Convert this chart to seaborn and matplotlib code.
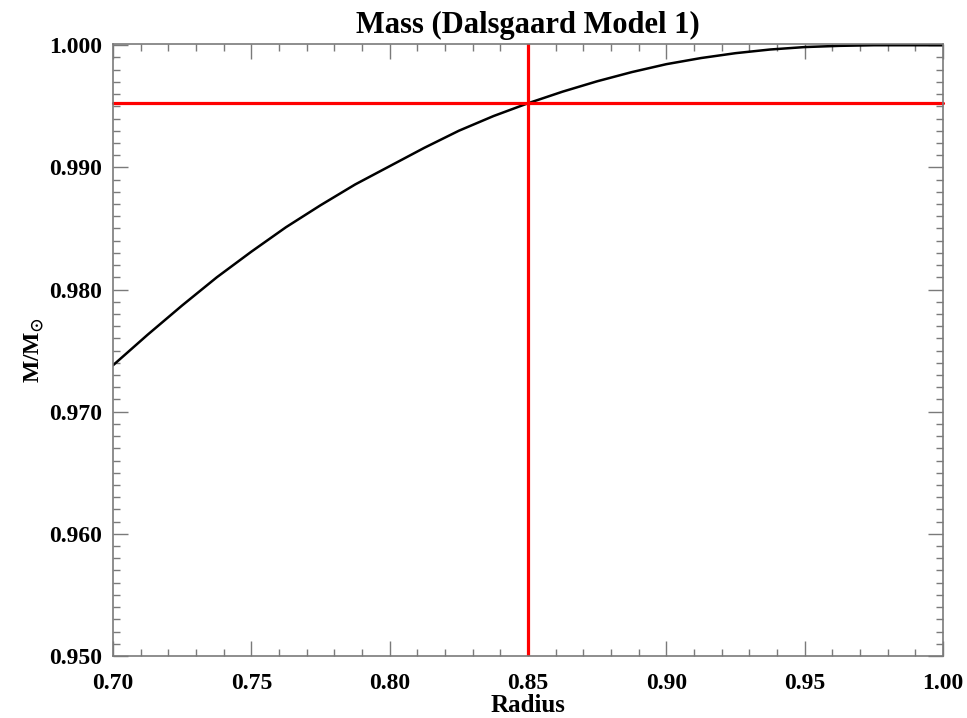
import numpy as np
import pandas as pd
import matplotlib
matplotlib.use("Agg")
import matplotlib.pyplot as plt
import seaborn as sns
from matplotlib.ticker import MultipleLocator, FormatStrFormatter

# valores
radius = [0.7000, 0.7125, 0.7250, 0.7375, 0.7500, 0.7625, 0.7750, 0.7875,
          0.8000, 0.8125, 0.8250, 0.8375, 0.8500, 0.8625, 0.8750, 0.8875,
          0.9000, 0.9125, 0.9250, 0.9375, 0.9500, 0.9625, 0.9750, 0.9875, 1.0000]
mass = [0.97380, 0.97630, 0.97870, 0.98100, 0.98310, 0.98510, 0.98690, 0.98860,
        0.99010, 0.99160, 0.99300, 0.99420, 0.99525, 0.99620, 0.99705, 0.99780,
        0.99845, 0.99895, 0.99935, 0.99965, 0.99985, 0.99995, 1.00000, 1.00000, 1.00000]

radius_mark = 0.85
mass_mark = 0.99525

df = pd.DataFrame({"Radius": radius, "Mass": mass})

sns.set_style("ticks")
plt.rcParams['font.family'] = ['Liberation Serif', 'DejaVu Serif']
plt.rcParams['font.weight'] = 'bold'
plt.rcParams['mathtext.fontset'] = 'stix'
plt.rcParams['text.color'] = 'black'

fig = plt.figure(figsize=(9.67, 7.18), dpi=100)
ax = fig.add_axes([0.1169, 0.0864, 0.8583, 0.8523])

sns.lineplot(data=df, x="Radius", y="Mass", ax=ax, color='black', linewidth=1.8)
ax.axhline(mass_mark, color='red', linewidth=2.3, clip_on=False)
ax.axvline(radius_mark, color='red', linewidth=2.3)

ax.set_xlim(0.70, 1.00)
ax.set_ylim(0.950, 1.0001)

ax.xaxis.set_major_locator(MultipleLocator(0.05))
ax.xaxis.set_minor_locator(MultipleLocator(0.01))
ax.yaxis.set_major_locator(MultipleLocator(0.01))
ax.yaxis.set_minor_locator(MultipleLocator(0.001))
ax.xaxis.set_major_formatter(FormatStrFormatter('%.2f'))
ax.yaxis.set_major_formatter(FormatStrFormatter('%.3f'))

gris = '#7a7a7a'
ax.tick_params(which='both', direction='in', top=True, right=True, colors=gris,
               labelcolor='black', labelsize=17, width=1)
ax.tick_params(axis='x', which='major', length=11, pad=12)
ax.tick_params(axis='y', which='major', length=11, pad=8)
ax.tick_params(which='minor', length=5)
for s in ax.spines.values():
    s.set_color(gris)
    s.set_linewidth(1.2)
for lab in ax.get_xticklabels() + ax.get_yticklabels():
    lab.set_fontweight('bold')

ax.set_title('Mass (Dalsgaard Model 1)', fontsize=22, fontweight='bold', color='black', pad=8)
ax.set_xlabel('Radius', fontsize=18, fontweight='bold', color='black', labelpad=0)
ax.set_ylabel(r'M/M$_{\mathbf{\odot}}$', fontsize=17, fontweight='bold', color='black', labelpad=2)

fig.savefig('out.png', dpi=100)
